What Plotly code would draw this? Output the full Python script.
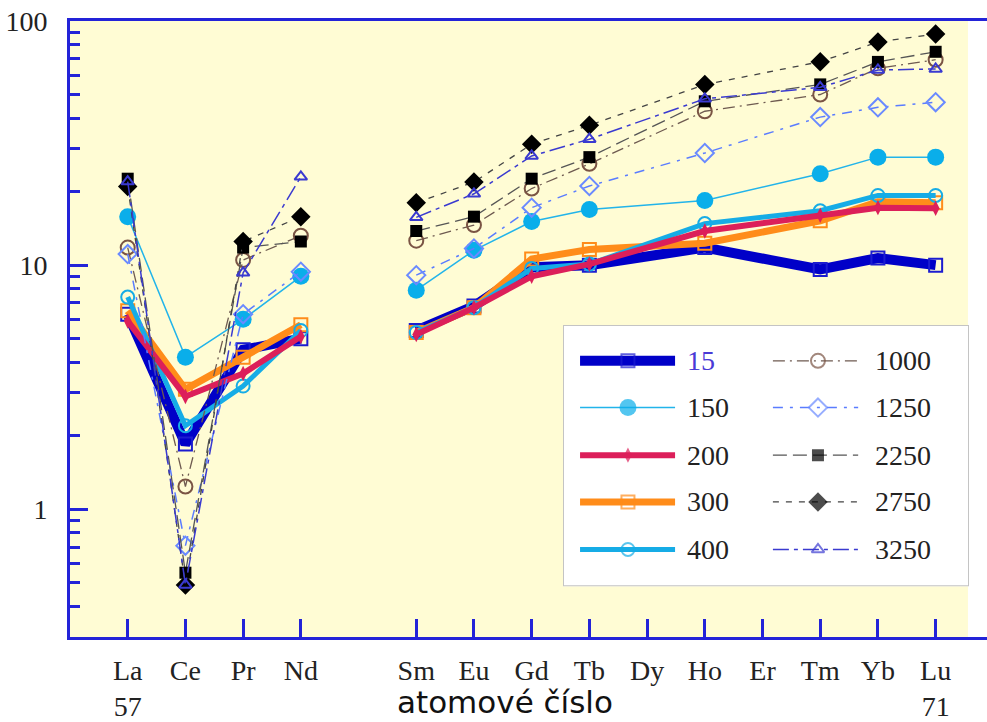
import plotly.graph_objects as go

# Element positions (atomic number); Pm (61) is left as a gap, Dy and Er were not measured
atomic_numbers = [57, 58, 59, 60, 61, 62, 63, 64, 65, 67, 69, 70, 71]

tick_positions = [57, 58, 59, 60, 62, 63, 64, 65, 66, 67, 68, 69, 70, 71]
tick_labels = ["La<br>57", "Ce", "Pr", "Nd", "Sm", "Eu", "Gd", "Tb", "Dy",
               "Ho", "Er", "Tm", "Yb", "Lu<br>71"]

s15 = [6.3, 1.85, 4.5, 5.0, None, 5.4, 6.8, 9.8, 10.0, 11.8, 9.6, 10.7, 10.0]
s150 = [15.8, 4.2, 6.0, 9.0, None, 7.9, 11.5, 15.1, 16.9, 18.4, 23.7, 27.7, 27.7]
s200 = [5.9, 2.9, 3.6, 5.1, None, 5.2, 6.7, 9.0, 10.1, 13.8, 16.0, 17.2, 17.1]
s300 = [6.5, 3.1, 4.2, 5.7, None, 5.3, 6.7, 10.6, 11.6, 12.3, 15.2, 18.2, 18.0]
s400 = [7.4, 2.2, 3.2, 5.4, None, 5.3, 6.7, 9.7, 10.1, 14.8, 16.7, 19.3, 19.3]
s1000 = [11.8, 1.24, 10.5, 13.2, None, 12.6, 14.6, 20.6, 26.0, 42.7, 50.0, 64.0, 69.4]
s1250 = [11.1, 0.71, 6.3, 9.4, None, 9.1, 11.7, 17.2, 21.1, 28.8, 40.4, 44.3, 46.5]
s2250 = [22.6, 0.55, 11.8, 12.5, None, 13.8, 15.8, 22.6, 27.7, 46.9, 55.0, 68.0, 74.8]
s2750 = [21.0, 0.49, 12.5, 15.8, None, 18.0, 21.9, 31.3, 37.4, 54.9, 68.1, 82.0, 88.5]
s3250 = [22.0, 0.49, 9.3, 23.0, None, 15.7, 19.6, 28.0, 32.8, 48.0, 53.5, 63.0, 63.6]

AXIS_BLUE = "#2323d8"
BG_YELLOW = "#fffcd4"
SERIF = "Liberation Serif, Times New Roman, serif"

# name, values, line colour, width, dash, marker symbol, marker colour, marker size, label colour
series = [
    ("15", s15, "#0000c8", 10, "solid", "square-open", "#1c1cd0", 13, "#4a3ad6"),
    ("300", s300, "#ff8c1a", 7, "solid", "square-open", "#ff8c1a", 13, "#222222"),
    ("400", s400, "#16ace6", 5, "solid", "circle-open", "#16ace6", 13, "#222222"),
    ("200", s200, "#dc1f5a", 6, "solid", "diamond-tall", "#dc1f5a", 11, "#222222"),
    ("150", s150, "#22b4ea", 1.5, "solid", "circle", "#0aaeea", 17, "#222222"),
    ("1000", s1000, "#6e5a50", 1.3, "12px,5px,2px,5px", "circle-open", "#7a5444", 14, "#222222"),
    ("1250", s1250, "#5a7cff", 1.5, "10px,7px,3px,7px", "diamond-open", "#6a8aff", 14, "#222222"),
    ("2250", s2250, "#555555", 1.3, "14px,6px", "square", "#000000", 12, "#222222"),
    ("2750", s2750, "#444444", 1.3, "6px,7px", "diamond", "#000000", 15, "#222222"),
    ("3250", s3250, "#3a3ad0", 1.5, "16px,5px,4px,5px", "triangle-up-open", "#3a3ad0", 11, "#222222"),
]

legend_left = ["15", "150", "200", "300", "400"]
legend_right = ["1000", "1250", "2250", "2750", "3250"]

fig = go.Figure()

for name, vals, lc, lw, dash, sym, mc, ms, _ in series:
    fig.add_trace(go.Scatter(
        x=atomic_numbers, y=vals, mode="lines+markers", name=name,
        connectgaps=False, showlegend=False,
        line=dict(color=lc, width=lw, dash=dash),
        marker=dict(symbol=sym, color=mc, size=ms,
                    line=dict(width=2 if "open" in sym else 0, color=mc)),
    ))

# Legend drawn in its own small axes box
row_y = [0.863, 0.684, 0.502, 0.323, 0.141]
cols = {
    "left": dict(x0=0.042, xm=0.160, x1=0.276, xt=0.300, names=legend_left),
    "right": dict(x0=0.517, xm=0.628, x1=0.727, xt=0.764, names=legend_right),
}
lookup = {s[0]: s for s in series}
annotations = []
for col in cols.values():
    for i, nm in enumerate(col["names"]):
        _, _, lc, lw, dash, sym, mc, ms, tc = lookup[nm]
        fig.add_trace(go.Scatter(
            x=[col["x0"], col["xm"], col["x1"]], y=[row_y[i]] * 3,
            xaxis="x2", yaxis="y3", mode="lines+markers", showlegend=False,
            hoverinfo="skip",
            line=dict(color=lc, width=lw, dash=dash),
            marker=dict(symbol=sym, color=mc, size=[0, ms, 0],
                        line=dict(width=2 if "open" in sym else 0, color=mc)),
        ))
        annotations.append(dict(
            x=col["xt"], y=row_y[i], xref="x2", yref="y3", text=nm,
            showarrow=False, xanchor="left", yanchor="middle",
            font=dict(family=SERIF, size=28, color=tc),
        ))

annotations.append(dict(
    x=0.474, y=-0.106, xref="paper", yref="paper", text="atomové číslo",
    showarrow=False, xanchor="center", yanchor="middle",
    font=dict(family="DejaVu Sans", size=31, color="#111111"),
))

W, H = 987, 722
ml, mr, mt, mb = 70, 0, 21, 81
pw, ph = W - ml - mr, H - mt - mb
box = dict(l=563, r=969, t=327, b=590)
leg_xdom = [(box["l"] - ml) / pw, (box["r"] - ml) / pw]
leg_ydom = [(mt + ph - box["b"]) / ph, (mt + ph - box["t"]) / ph]

minor_vals = [0.4, 0.5, 0.6, 0.7, 0.8, 0.9, 2, 3, 4, 5, 6, 7, 8, 9,
              20, 30, 40, 50, 60, 70, 80, 90]

fig.update_layout(
    width=W, height=H,
    margin=dict(l=ml, r=mr, t=mt, b=mb, pad=0),
    paper_bgcolor="white", plot_bgcolor="white",
    font=dict(family=SERIF, size=28, color="#222222"),
    showlegend=False,
    xaxis=dict(
        range=[56, 71.89], tickmode="array", tickvals=tick_positions,
        ticktext=tick_labels, ticks="inside", ticklen=18, tickwidth=3,
        tickcolor=AXIS_BLUE, showline=True, linecolor=AXIS_BLUE, linewidth=3,
        mirror=True, showgrid=False, zeroline=False, ticklabelstandoff=6,
        tickfont=dict(family=SERIF, size=28, color="#222222"),
    ),
    yaxis=dict(
        type="log", range=[-0.5229, 2], tickvals=[1, 10, 100],
        ticktext=["1", "10", "100"], ticks="inside", ticklen=18, tickwidth=3,
        tickcolor=AXIS_BLUE, showline=True, linecolor=AXIS_BLUE, linewidth=3,
        showgrid=False, zeroline=False, ticklabelstandoff=14,
        minor=dict(ticks="inside", ticklen=10, tickwidth=3, tickcolor=AXIS_BLUE,
                   tickvals=minor_vals, showgrid=False),
        tickfont=dict(family=SERIF, size=28, color="#222222"),
    ),
    yaxis2=dict(
        type="log", range=[-0.5229, 2], overlaying="y", side="right",
        anchor="x", tickvals=[1, 10, 100], showticklabels=False,
        ticks="inside", ticklen=14, tickwidth=3, tickcolor=AXIS_BLUE,
        showline=False, showgrid=False, zeroline=False,
        minor=dict(ticks="inside", ticklen=7, tickwidth=3, tickcolor=AXIS_BLUE,
                   tickvals=minor_vals, showgrid=False),
    ),
    xaxis2=dict(domain=leg_xdom, range=[0, 1], anchor="y3", visible=False),
    yaxis3=dict(domain=leg_ydom, range=[0, 1], anchor="x2", visible=False),
    shapes=[
        dict(type="rect", xref="x", yref="paper", x0=56, x1=71.56, y0=0, y1=1,
             fillcolor=BG_YELLOW, line=dict(width=0), layer="below"),
        dict(type="rect", xref="x2", yref="y3", x0=0, x1=1, y0=0, y1=1,
             fillcolor="white", line=dict(color="#c4c4c4", width=2), layer="below"),
    ],
    annotations=annotations,
)

fig.write_html("out.html")
